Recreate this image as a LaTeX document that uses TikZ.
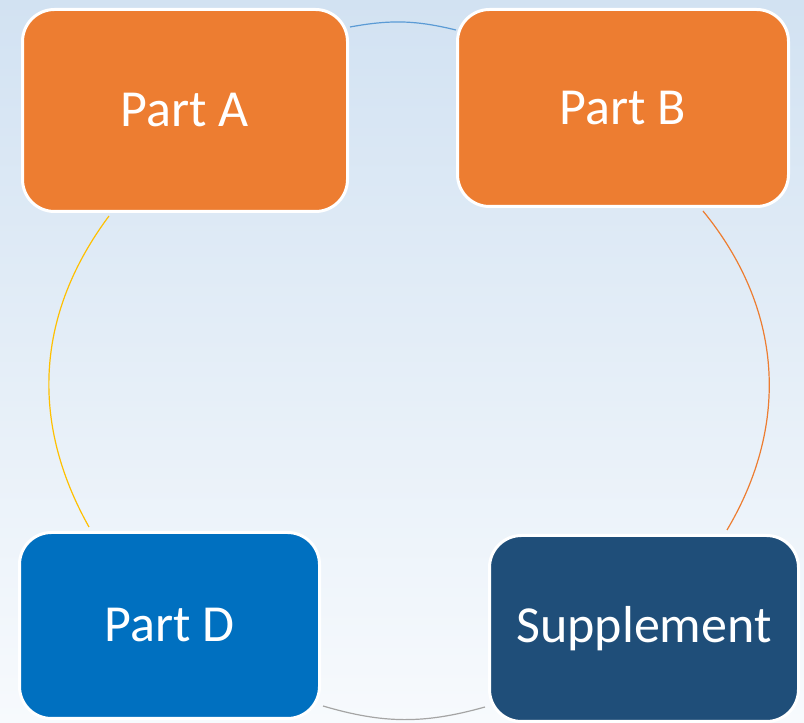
\documentclass[tikz,border=0pt]{standalone}
\usepackage{fontspec}
\setmainfont{Carlito}
\usetikzlibrary{positioning}

\definecolor{partorange}{RGB}{237,125,49}
\definecolor{partblue}{RGB}{0,112,192}
\definecolor{suppblue}{RGB}{31,78,121}
\definecolor{arcblue}{RGB}{91,155,213}
\definecolor{arcgray}{RGB}{165,165,165}
\definecolor{arcyellow}{RGB}{255,192,0}
\definecolor{bgtop}{RGB}{210,226,242}
\definecolor{bgmid}{RGB}{234,241,248}
\definecolor{bgbot}{RGB}{247,250,253}

\tikzset{
  partbox/.style={draw=white, line width=3pt, rounded corners=32pt,
    text=white, font=\fontsize{52}{62}\selectfont, inner sep=0pt},
  cyclearc/.style={line width=1.2pt, bend left=#1}
}

\begin{document}
\begin{tikzpicture}[x=1pt,y=1pt]
            \shade[top color=bgtop, middle color=bgmid, bottom color=bgbot]
                (0,0) rectangle (804,723);
            \useasboundingbox (0,0) rectangle (804,723);

            % boxes
            \node[partbox, fill=partorange, minimum width=325pt, minimum height=202pt]
                (A) at (185,612.5) {Part A};
            \node[partbox, fill=partorange, minimum width=331pt, minimum height=197pt]
                (B) at (623,615) {Part B};
            \node[partbox, fill=suppblue, minimum width=309pt, minimum height=186pt]
                (S) at (644,94.5) {Supplement};
            \node[partbox, fill=partblue, minimum width=300pt, minimum height=186pt]
                (D) at (169.5,97.5) {Part D};

            % arc ends
            \coordinate (ab) at (350,696);
            \coordinate (ba) at (456,693);
            \coordinate (bs) at (703,512);
            \coordinate (sb) at (727,193);
            \coordinate (sd) at (485,16);
            \coordinate (ds) at (323,17);
            \coordinate (da) at (89,196);
            \coordinate (ad) at (109,507);

            %arcs
                \foreach \from/\to/\col/\b in {ab/ba/arcblue/12, bs/sb/partorange/35,
                                              sd/ds/arcgray/16, da/ad/arcyellow/33}
                    \draw[\col, cyclearc=\b] (\from) to (\to);
             \end{tikzpicture}
\end{document}
